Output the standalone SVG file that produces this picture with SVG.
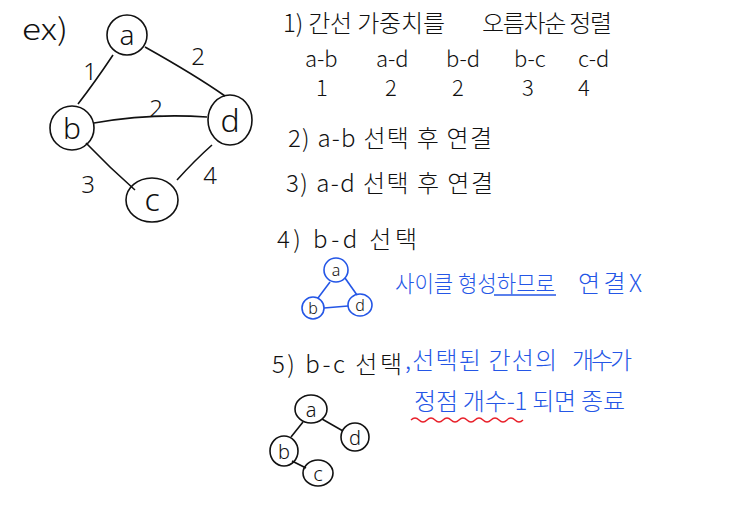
<svg xmlns="http://www.w3.org/2000/svg" width="743" height="516" viewBox="0 0 743 516">
<style>
.t{font-family:"Noto Sans CJK KR","Noto Sans",sans-serif;fill:#111;font-weight:300}
.b{fill:#2456e6}
.n{fill:none;stroke:#111;stroke-width:1.6}
.nb{fill:none;stroke:#2456e6;stroke-width:1.6}
.lb{font-family:"Noto Sans","DejaVu Sans",sans-serif;font-weight:300;fill:#111;text-anchor:middle}
</style>
<rect width="743" height="516" fill="#fff"/>
<text class="t" x="22" y="40" font-size="30" textLength="46" lengthAdjust="spacingAndGlyphs">ex)</text>
<g id="connectors">
<path class="n" d="M113,55 Q95,82 78,104"/>
<path class="n" d="M145,47 Q195,75 225,96"/>
<path class="n" d="M94,123 Q150,113 207,117"/>
<path class="n" d="M86,143 Q110,168 135,190"/>
<path class="n" d="M177,180 Q195,160 212,145"/>
<path class="nb" d="M330,282 L318,298"/>
<path class="nb" d="M345,278 L357,295"/>
<path class="nb" d="M324,308 L348,306"/>
<path class="n" d="M303,422 L291,437"/>
<path class="n" d="M322,419 L343,431"/>
<path class="n" d="M292,461 L306,468"/>
</g>
<g id="edge-labels">
<text class="lb" x="90" y="80" font-size="24">1</text>
<text class="lb" x="198" y="65" font-size="24">2</text>
<text class="lb" x="156" y="117" font-size="24">2</text>
<text class="lb" x="88" y="193" font-size="24">3</text>
<text class="lb" x="210" y="184" font-size="24">4</text>
</g>
<g id="node-a"><ellipse class="n" cx="127" cy="35" rx="20" ry="20"/><text class="lb" x="127" y="45" font-size="28">a</text></g>
<g id="node-b"><ellipse class="n" cx="72" cy="128" rx="22" ry="22"/><text class="lb" x="72" y="139" font-size="30">b</text></g>
<g id="node-d"><ellipse class="n" cx="230" cy="120" rx="22" ry="25"/><text class="lb" x="230" y="132" font-size="32">d</text></g>
<g id="node-c"><ellipse class="n" cx="152" cy="200" rx="26" ry="22"/><text class="lb" x="152" y="211" font-size="32">c</text></g>

<g id="step1">
<text class="t" x="283" y="32" font-size="24" textLength="162" lengthAdjust="spacing">1) 간선 가중치를</text>
<text class="t" x="482" y="32" font-size="24" textLength="130" lengthAdjust="spacing">오름차순 정렬</text>
<text class="t" font-size="22" y="67"><tspan x="305">a-b</tspan><tspan x="376">a-d</tspan><tspan x="446">b-d</tspan><tspan x="514">b-c</tspan><tspan x="578">c-d</tspan></text>
<text class="t" font-size="22" y="96"><tspan x="316">1</tspan><tspan x="385">2</tspan><tspan x="452">2</tspan><tspan x="522">3</tspan><tspan x="578">4</tspan></text>
</g>
<text class="t" x="288" y="147" font-size="24" textLength="204" lengthAdjust="spacing">2) a-b 선택 후 연결</text>
<text class="t" x="286" y="192" font-size="24" textLength="207" lengthAdjust="spacing">3) a-d 선택 후 연결</text>
<text class="t" x="277" y="248" font-size="24" textLength="140" lengthAdjust="spacing">4) b-d 선택</text>

<g id="mini-a1"><ellipse class="nb" cx="336" cy="270" rx="12" ry="12"/><text class="lb b" x="336" y="276" font-size="16">a</text></g>
<g id="mini-b1"><ellipse class="nb" cx="313" cy="308" rx="11" ry="11"/><text class="lb b" x="313" y="314" font-size="16">b</text></g>
<g id="mini-d1"><ellipse class="nb" cx="360" cy="305" rx="12" ry="11"/><text class="lb b" x="360" y="311" font-size="16">d</text></g>

<text class="t b" x="395" y="292" font-size="23" textLength="160" lengthAdjust="spacingAndGlyphs">사이클 형성하므로</text>
<text class="t b" x="578" y="292" font-size="24" textLength="64" lengthAdjust="spacing">연결X</text>
<line x1="494" y1="295" x2="556" y2="295" stroke="#2456e6" stroke-width="1.4"/>

<text class="t" x="272" y="373" font-size="24" textLength="130" lengthAdjust="spacing">5) b-c 선택</text>
<text class="t b" x="405" y="369" font-size="24" textLength="152" lengthAdjust="spacing">,선택된 간선의</text>
<text class="t b" x="572" y="369" font-size="24" textLength="60" lengthAdjust="spacing">개수가</text>
<text class="t b" x="414" y="410" font-size="24" textLength="211" lengthAdjust="spacing">정점 개수-1 되면 종료</text>
<path d="M411,420 q4,-4 8,0 t8,0 t8,0 t8,0 t8,0 t8,0 t8,0 t8,0 t8,0 t8,0 t8,0 t8,0 t8,0 t8,0" fill="none" stroke="#e8202a" stroke-width="1.4"/>

<g id="mini-a2"><ellipse class="n" cx="311" cy="409" rx="16" ry="14"/><text class="lb" x="311" y="417" font-size="20">a</text></g>
<g id="mini-d2"><ellipse class="n" cx="355" cy="437" rx="14" ry="14"/><text class="lb" x="355" y="445" font-size="20">d</text></g>
<g id="mini-b2"><ellipse class="n" cx="284" cy="451" rx="14" ry="15"/><text class="lb" x="284" y="459" font-size="20">b</text></g>
<g id="mini-c2"><ellipse class="n" cx="318" cy="473" rx="15" ry="13"/><text class="lb" x="318" y="481" font-size="20">c</text></g>
</svg>
